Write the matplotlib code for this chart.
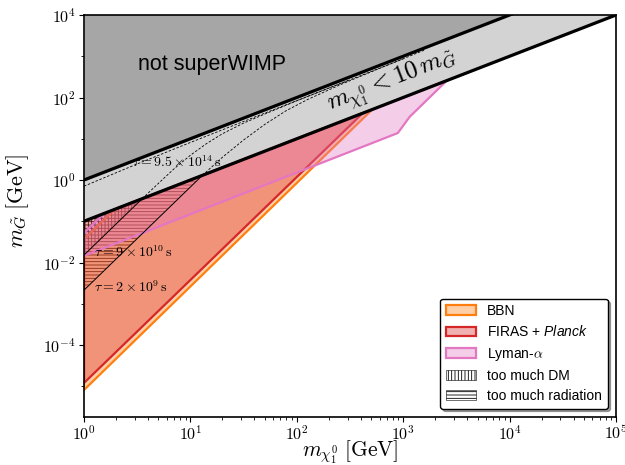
import numpy as np
import matplotlib
matplotlib.use("Agg")
import matplotlib.pyplot as plt
from matplotlib.patches import Patch
from matplotlib.ticker import LogLocator, FixedLocator, FuncFormatter, NullFormatter

plt.rcParams['mathtext.fontset'] = 'cm'
plt.rcParams['mathtext.it'] = 'Liberation Sans:italic'
plt.rcParams['mathtext.rm'] = 'Liberation Sans'
plt.rcParams['hatch.linewidth'] = 0.6
plt.rcParams['axes.unicode_minus'] = True

# ---------------- data ----------------
# superWIMP band: m_G = m_chi (upper) and m_G = m_chi/10 (lower)
band_mchi = [1.0, 1e5]
band_upper = [1.0, 1e5]
band_lower = [0.1, 1e4]
plot_top = [1e6, 1e6]

# BBN exclusion polygon (m_chi, m_G)
bbn_mchi = [1.0, 10**2.71, 10**0.287, 1.0]
bbn_mg = [10**-5.09, 10**1.71, 10**-0.713, 10**-1.43]

# FIRAS + Planck polygon
firas_mchi = [1.0, 10**2.62, 1.0]
firas_mg = [10**-4.92, 10**1.62, 10**-1.0]

# Lyman-alpha polygon
lya_mchi = [1.0, 10**2.95, 10**3.06, 10**3.41, 10**0.187, 1.0]
lya_mg = [10**-1.84, 10**1.14, 10**1.53, 10**2.41, 10**-0.813, 10**-1.28]

# lifetime contours: solid part (below band)
tau2e9_mchi = [1.0, 10**1.113]
tau2e9_mg = [10**-2.67, 10**0.113]
tau9e10_mchi = [1.0, 10**0.547]
tau9e10_mg = [10**-1.82, 10**-0.453]

# lifetime contours: dashed part (inside band), log10 values
dashA_logm = [0.547, 0.70, 0.85, 1.00, 1.15, 1.30, 1.50, 1.70, 2.00, 2.50]
dashA_logg = [-0.453, -0.08, 0.28, 0.60, 0.88, 1.12, 1.38, 1.60, 1.92, 2.43]
dashB_logm = [1.113, 1.30, 1.50, 1.70, 1.90, 2.10, 2.40, 2.80, 3.20]
dashB_logg = [0.113, 0.55, 0.97, 1.35, 1.68, 1.95, 2.30, 2.73, 3.15]
dashC_logm = [0.0, 0.5, 1.0, 1.5, 2.0, 2.5, 3.0]
dashC_logg = [-0.15, 0.39, 0.91, 1.42, 1.925, 2.43, 2.935]

tau_texts = [r'$\tau = 9.5\times10^{14}\,\mathrm{s}$',
             r'$\tau = 9\times10^{10}\,\mathrm{s}$',
             r'$\tau = 2\times10^{9}\,\mathrm{s}$']
tau_text_m = [2.82, 1.24, 1.24]
tau_text_g = [10**0.436, 10**-1.745, 10**-2.59]

x_ticks = [1e0, 1e1, 1e2, 1e3, 1e4, 1e5]
y_ticks = [1e-4, 1e-2, 1e0, 1e2, 1e4]
y_minor = [1e-5, 1e-3, 1e-1, 1e1, 1e3]

legend_labels = ['BBN', r'FIRAS + $\mathit{Planck}$', r'Lyman-$\alpha$',
                 'too much DM', 'too much radiation']

# ---------------- colours ----------------
c_bbn = '#ff7f0e'
c_firas = '#d62728'
c_lya = '#e377c2'
alpha = 0.36

fig = plt.figure(figsize=(6.25, 4.65), dpi=100)
ax = fig.add_axes([84/625, 1-417/465, (616-84)/625, (417-15)/465])
ax.set_xscale('log')
ax.set_yscale('log')
ax.set_xlim(1, 1e5)
ax.set_ylim(10**-5.745, 1e4)

# gray regions
ax.fill_between(band_mchi, band_upper, plot_top, color='#a6a6a6', lw=0, zorder=1)
ax.fill_between(band_mchi, band_lower, band_upper, color='#d3d3d3', lw=0, zorder=1)

# hatched regions (under coloured fills)
rad_x = tau2e9_mchi + [tau2e9_mchi[0]]
rad_y = tau2e9_mg + [band_lower[0]]
ax.fill(rad_x, rad_y, facecolor='none', edgecolor='black', hatch='-----', lw=0, zorder=1.5)
dm_x = tau9e10_mchi + [tau9e10_mchi[0]]
dm_y = tau9e10_mg + [band_lower[0]]
ax.fill(dm_x, dm_y, facecolor='none', edgecolor='black', hatch='|||||', lw=0, zorder=1.5)

# coloured exclusion regions
ax.fill(bbn_mchi, bbn_mg, facecolor=(1.0, 0.498, 0.055, alpha), edgecolor=c_bbn, lw=1.6, zorder=2)
ax.fill(firas_mchi, firas_mg, facecolor=(0.839, 0.153, 0.157, alpha), edgecolor=c_firas, lw=1.6, zorder=2.1)
ax.fill(lya_mchi, lya_mg, facecolor=(0.890, 0.467, 0.761, alpha), edgecolor=c_lya, lw=1.6, zorder=2.2)

# lifetime contours
ax.plot(tau2e9_mchi, tau2e9_mg, color='black', lw=0.7, zorder=3)
ax.plot(tau9e10_mchi, tau9e10_mg, color='black', lw=0.7, zorder=3)
for lm, lg in [(dashA_logm, dashA_logg), (dashB_logm, dashB_logg), (dashC_logm, dashC_logg)]:
    ax.plot(10**np.array(lm), 10**np.array(lg), color='black', lw=0.6,
            ls=(0, (3, 2)), zorder=3)

# band boundaries
ax.plot(band_mchi, band_upper, color='black', lw=2.3, zorder=4)
ax.plot(band_mchi, band_lower, color='black', lw=2.3, zorder=4)

# texts
for t, xm, yg in zip(tau_texts, tau_text_m, tau_text_g):
    ax.text(xm, yg, t, fontsize=10, ha='left', va='center', zorder=3.5)

ax.text(10**1.2, 10**2.8, 'not superWIMP', fontsize=15.5, family='Liberation Sans',
        ha='center', va='center', zorder=5)

# rotated band label, angle from the data transform
p1 = ax.transData.transform((10**2.0, 10**1.5))
p2 = ax.transData.transform((10**3.0, 10**2.5))
ang = np.degrees(np.arctan2(p2[1]-p1[1], p2[0]-p1[0]))
ax.text(10**2.9, 10**2.4, r'$m_{\chi_1^0} < 10\,m_{\tilde{G}}$', fontsize=18,
        rotation=ang, rotation_mode='anchor', ha='center', va='center', zorder=5)

# axes cosmetics
ax.xaxis.set_major_locator(FixedLocator(x_ticks))
ax.xaxis.set_minor_locator(LogLocator(base=10, subs=np.arange(2, 10), numticks=20))
ax.xaxis.set_minor_formatter(NullFormatter())
ax.yaxis.set_major_locator(FixedLocator(y_ticks))
ax.yaxis.set_minor_locator(FixedLocator(y_minor))
ax.yaxis.set_minor_formatter(NullFormatter())
fmt = FuncFormatter(lambda v, p: r'$10^{%d}$' % int(round(np.log10(v))))
ax.xaxis.set_major_formatter(fmt)
ax.yaxis.set_major_formatter(fmt)
ax.tick_params(labelsize=11.5, pad=2.5)
ax.tick_params(axis='x', pad=1.5)
for s in ax.spines.values():
    s.set_linewidth(1.2)
    s.set_zorder(6)

ax.set_xlabel(r'$m_{\chi_1^0}\;[\mathrm{GeV}]$', fontsize=15.5, math_fontfamily='cm', labelpad=-3)
ax.set_ylabel(r'$m_{\tilde{G}}\;[\mathrm{GeV}]$', fontsize=16, math_fontfamily='cm')
ax.yaxis.set_label_coords(-0.1, 0.537)

# legend
handles = [
    Patch(facecolor=(1.0, 0.498, 0.055, alpha), edgecolor=c_bbn, lw=1.6),
    Patch(facecolor=(0.839, 0.153, 0.157, alpha), edgecolor=c_firas, lw=1.6),
    Patch(facecolor=(0.890, 0.467, 0.761, alpha), edgecolor=c_lya, lw=1.6),
    Patch(facecolor='white', edgecolor='black', hatch='|||||', lw=0.4),
    Patch(facecolor='white', edgecolor='black', hatch='-----', lw=0.4),
]
leg = ax.legend(handles, legend_labels, loc='lower right', prop={'family': 'Liberation Sans', 'size': 10},
                frameon=True, shadow=True, fancybox=True, framealpha=1, edgecolor='black',
                borderaxespad=0.6, handlelength=2.2, labelspacing=0.45)
leg.get_frame().set_linewidth(1.0)
leg.set_zorder(10)
leg.get_texts()[1].set_math_fontfamily('custom')

fig.savefig('out.png', dpi=100)
